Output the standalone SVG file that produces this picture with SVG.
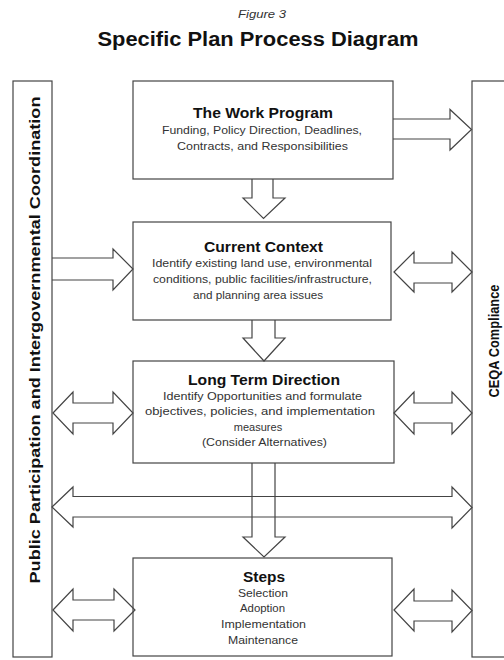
<svg xmlns="http://www.w3.org/2000/svg" width="504" height="660" viewBox="0 0 504 660">
<style>
.box{fill:#fff;stroke:#444;stroke-width:1.2}
.arr{fill:none;stroke:#444;stroke-width:1.2;stroke-linejoin:miter}
.t{font-family:"Liberation Sans",Arial,sans-serif;text-anchor:middle}
.h{font-weight:bold;font-size:14px;fill:#111}
.b{font-size:11px;fill:#333}
.v{font-weight:bold;font-size:14px;fill:#111}
</style>
<rect width="504" height="660" fill="#fff"/>
<text class="t" x="262" y="18" font-size="11" font-style="italic" fill="#333" textLength="48" lengthAdjust="spacingAndGlyphs">Figure 3</text>
<text class="t" x="258" y="46" font-size="20" font-weight="bold" fill="#111" textLength="321" lengthAdjust="spacingAndGlyphs">Specific Plan Process Diagram</text>

<g id="public-participation">
<rect class="box" x="13" y="81" width="39" height="576"/>
<text class="t v" transform="translate(40,340) rotate(-90)" textLength="487" lengthAdjust="spacingAndGlyphs">Public Participation and Intergovernmental Coordination</text>
</g>
<g id="ceqa-compliance">
<rect class="box" x="472" y="81" width="40" height="576"/>
<text class="t v" font-size="13" transform="translate(499,341) rotate(-90)" textLength="113" lengthAdjust="spacingAndGlyphs">CEQA Compliance</text>
</g>

<g id="work-program">
<rect class="box" x="133" y="81" width="260" height="98"/>
<text class="t h" x="263" y="118" textLength="140" lengthAdjust="spacingAndGlyphs">The Work Program</text>
<text class="t b" x="262" y="134" textLength="200" lengthAdjust="spacingAndGlyphs">Funding, Policy Direction, Deadlines,</text>
<text class="t b" x="262.5" y="150" textLength="171" lengthAdjust="spacingAndGlyphs">Contracts, and Responsibilities</text>
</g>

<g id="current-context">
<rect class="box" x="133" y="222" width="258" height="98"/>
<text class="t h" x="263.5" y="252" textLength="119" lengthAdjust="spacingAndGlyphs">Current Context</text>
<text class="t b" x="262" y="267" textLength="220" lengthAdjust="spacingAndGlyphs">Identify existing land use, environmental</text>
<text class="t b" x="262.5" y="283" textLength="219" lengthAdjust="spacingAndGlyphs">conditions, public facilities/infrastructure,</text>
<text class="t b" x="258" y="299" textLength="130" lengthAdjust="spacingAndGlyphs">and planning area issues</text>
</g>

<g id="long-term-direction">
<rect class="box" x="133" y="361" width="261" height="102"/>
<text class="t h" x="264" y="385" textLength="152" lengthAdjust="spacingAndGlyphs">Long Term Direction</text>
<text class="t b" x="262.5" y="400" textLength="199" lengthAdjust="spacingAndGlyphs">Identify Opportunities and formulate</text>
<text class="t b" x="260" y="415" textLength="230" lengthAdjust="spacingAndGlyphs">objectives, policies, and implementation</text>
<text class="t b" x="258" y="431">measures</text>
<text class="t b" x="264.5" y="446" textLength="125" lengthAdjust="spacingAndGlyphs">(Consider Alternatives)</text>
</g>

<g id="steps">
<rect class="box" x="133" y="558" width="259" height="98"/>
<text class="t h" x="264" y="582" textLength="42" lengthAdjust="spacingAndGlyphs">Steps</text>
<text class="t b" x="263" y="597" textLength="50" lengthAdjust="spacingAndGlyphs">Selection</text>
<text class="t b" x="262.5" y="612" textLength="45" lengthAdjust="spacingAndGlyphs">Adoption</text>
<text class="t b" x="263.5" y="628" textLength="85" lengthAdjust="spacingAndGlyphs">Implementation</text>
<text class="t b" x="263" y="644" textLength="70" lengthAdjust="spacingAndGlyphs">Maintenance</text>
</g>

<g id="connectors">
<path class="arr" d="M393,119 H450 V109.5 L471.5,129.5 L450,150 V139 H393"/>
<path class="arr" d="M252,179 V198 H243 L263.5,218.5 L285,198 H273 V179"/>
<path class="arr" d="M52,258 H113 V249 L133,269 L113,290 V280 H52"/>
<path class="arr" d="M394,272 L414,252 V263 H452 V252 L472,272 L452,292 V283 H414 V292 Z"/>
<path class="arr" d="M252,320 V338 H243 L264,361 L285,338 H275 V320"/>
<path class="arr" d="M53,413 L73,392 V403 H113 V392 L133,413 L113,434 V423 H73 V434 Z"/>
<path class="arr" d="M394,413 L414,392 V403 H452 V392 L472,413 L452,434 V423 H414 V434 Z"/>
<path class="arr" d="M52,507 L73,487 V496.5 H452 V487 L472,507.5 L452,528 V517 H73 V527 Z"/>
<path class="arr" d="M252,463 V537 H243 L264,557 L285,537 H275 V463"/>
<path class="arr" d="M53,610 L73,589 V600 H114 V589 L135,610 L114,631 V620 H73 V631 Z"/>
<path class="arr" d="M394,610 L414,589 V601 H452 V590 L472,610.5 L452,632 V621 H414 V631 Z"/>
</g>
</svg>
